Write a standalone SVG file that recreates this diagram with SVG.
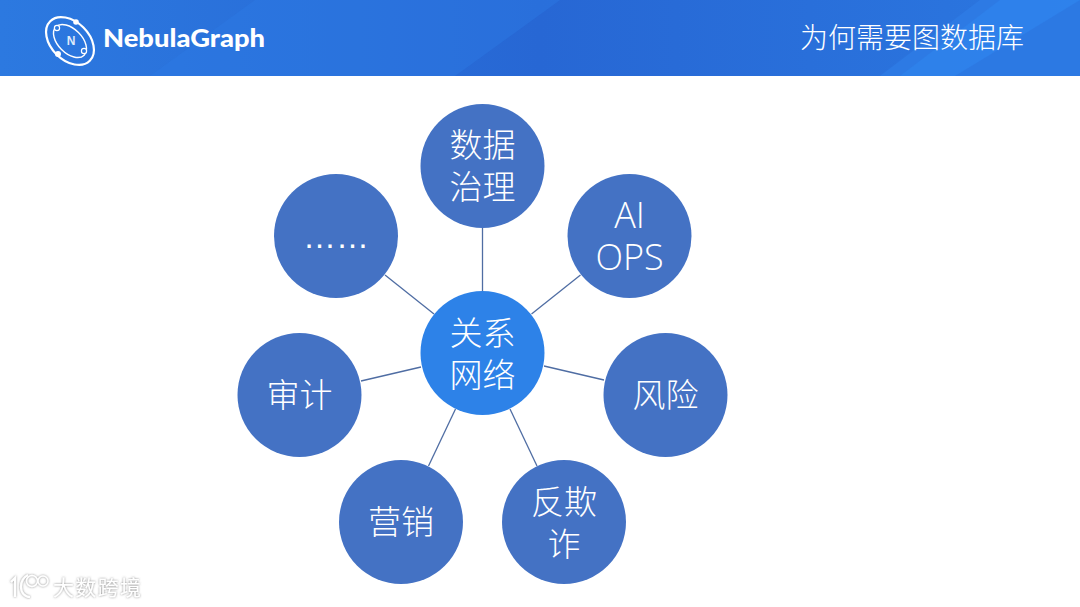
<svg xmlns="http://www.w3.org/2000/svg" width="1080" height="607" viewBox="0 0 1080 607">
<style>
.n{fill:#4472c4}
.c{fill:#2d82e8}
.t{font-family:"Noto Sans CJK SC","Liberation Sans",sans-serif;font-weight:300;font-size:33px;fill:#fff;text-anchor:middle}
.l{font-family:"Open Sans","Liberation Sans",sans-serif;font-weight:300;font-size:36px;fill:#fff;text-anchor:middle}
.d{font-family:"Liberation Sans",sans-serif;font-size:33px;fill:#fff;text-anchor:middle}
.e{stroke:#4f6da3;stroke-width:1.3;fill:none}
.o{fill:none;stroke:#fff}
.wm{font-family:"Noto Sans CJK SC",sans-serif;font-size:21px;fill:#fff}
</style>
<defs>
<linearGradient id="bg" x1="0" y1="0" x2="1" y2="0">
<stop offset="0" stop-color="#2c79e0"/><stop offset=".5" stop-color="#2767d4"/><stop offset="1" stop-color="#2b77e0"/>
</linearGradient>
<filter id="sh" x="-20%" y="-30%" width="140%" height="160%"><feDropShadow dx="0" dy="0" stdDeviation="1.300" flood-color="#777" flood-opacity=".9"/></filter>
</defs>
<rect width="1080" height="607" fill="#fff"/>
<g id="header">
<rect width="1080" height="76" fill="url(#bg)"/>
<polygon points="150,76 255,0 560,0 455,76" fill="#2d7ae4" opacity=".45"/>
<polygon points="880,76 980,0 1080,0 1080,76" fill="#2f84ee" opacity=".8"/>
<polygon points="955,76 1080,0 1080,76" fill="#2b72dc" opacity=".55"/>
<polygon points="878,76 978,0 1000,0 900,76" fill="#2c74de" opacity=".5"/>
</g>
<g id="logo">
<ellipse class="o" cx="70" cy="41" rx="28" ry="19" stroke-width="2.2" transform="rotate(45 70 41)"/>
<ellipse class="o" cx="70" cy="41" rx="20" ry="12" stroke-width="1.4" transform="rotate(45 70 41)"/>
<circle cx="76" cy="22" r="2.8" fill="#fff"/><circle cx="57" cy="28" r="2.6" fill="#2c79e0" stroke="#fff" stroke-width="1.2"/>
<circle cx="58" cy="54" r="3" fill="#fff"/><circle cx="84" cy="51" r="2.6" fill="#2c79e0" stroke="#fff" stroke-width="1.2"/>
<text x="71" y="45" font-family="Liberation Sans,sans-serif" font-size="12" font-weight="700" fill="#dfeafa" text-anchor="middle">N</text>
<text x="103" y="47" font-family="Lato,'Liberation Sans',sans-serif" font-size="25" font-weight="900" fill="#fff" textLength="162" lengthAdjust="spacingAndGlyphs">NebulaGraph</text>
</g>
<text id="title" x="912" y="48" font-family="'Noto Sans CJK SC',sans-serif" font-weight="300" font-size="28" fill="#fff" text-anchor="middle">为何需要图数据库</text>
<g id="connectors" class="e">
<line x1="482.500" y1="228" x2="482.500" y2="291"/>
<line x1="580.500" y1="275" x2="531.500" y2="314"/>
<line x1="604" y1="380" x2="544" y2="366"/>
<line x1="537" y1="466" x2="510" y2="409"/>
<line x1="428.500" y1="466" x2="455.500" y2="409"/>
<line x1="361" y1="381" x2="421" y2="367"/>
<line x1="385" y1="275" x2="434" y2="314"/>
</g>
<g id="center"><circle class="c" cx="482.500" cy="353" r="62"/><text class="t"><tspan x="482.500" y="345">关系</tspan><tspan x="482.500" y="387">网络</tspan></text></g>
<g id="n1"><circle class="n" cx="482.500" cy="166" r="62"/><text class="t"><tspan x="482.500" y="157">数据</tspan><tspan x="482.500" y="199">治理</tspan></text></g>
<g id="n2"><circle class="n" cx="629.500" cy="236" r="62"/><text class="l"><tspan x="629.500" y="228">AI</tspan><tspan x="629.500" y="270">OPS</tspan></text></g>
<g id="n3"><circle class="n" cx="665.500" cy="395" r="62"/><text class="t" x="665.500" y="407">风险</text></g>
<g id="n4"><circle class="n" cx="564" cy="522" r="62"/><text class="t"><tspan x="564" y="514">反欺</tspan><tspan x="564" y="556">诈</tspan></text></g>
<g id="n5"><circle class="n" cx="401" cy="522" r="62"/><text class="t" x="401" y="534">营销</text></g>
<g id="n6"><circle class="n" cx="299.500" cy="395" r="62"/><text class="t" x="299.500" y="407">审计</text></g>
<g id="n7"><circle class="n" cx="336" cy="236" r="62"/><text class="d" x="336" y="248">……</text></g>
<g id="watermark" filter="url(#sh)">
<path d="M11 582l4-4v19M28 575a13 13 0 0 0-7 12c0 6 4 10 9 10" fill="none" stroke="#fff" stroke-width="2.200"/>
<circle cx="32" cy="581" r="5.500" fill="none" stroke="#fff" stroke-width="1.500"/><circle cx="43" cy="581" r="5" fill="none" stroke="#fff" stroke-width="1.400"/>
<text class="wm" x="53" y="595" textLength="88">大数跨境</text>
</g>
</svg>
